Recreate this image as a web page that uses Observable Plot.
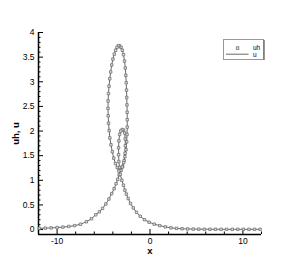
<!DOCTYPE html>
<html>
<head>
<meta charset="utf-8">
<script src="https://cdn.jsdelivr.net/npm/d3@7"></script>
<script src="https://cdn.jsdelivr.net/npm/@observablehq/plot@0.6"></script>
<style>
  body { margin: 0; background: #fff; }
  #wrap { position: relative; width: 297px; height: 264px; font-family: "Liberation Sans", Arial, sans-serif; }
  #wrap svg.plot { position: absolute; left: 0; top: 0; }
  [aria-label="x-axis label"] text, [aria-label="y-axis label"] text { font-weight: bold; font-size: 9.5px; }
  #legend { position: absolute; left: 223px; top: 39px; }
</style>
</head>
<body>
<div id="wrap"></div>
<script>
// Path along the curve (x, u)
const xs = [
  -11.9, -11.27, -10.64, -10.0, -9.37, -8.74, -8.11, -7.48, -6.85, -6.3, -5.84, -5.45, -5.11, -4.75, -4.42, -4.12, -3.86, -3.65, -3.47, -3.32,
  -3.15, -2.95, -2.78, -2.68, -2.66, -2.67, -2.72, -2.85, -3.0, -3.15, -3.27, -3.35, -3.38, -3.38, -3.35, -3.28,
  -3.12, -2.98, -2.84, -2.7, -2.58, -2.51, -2.47, -2.45, -2.45, -2.46, -2.48, -2.5, -2.53, -2.56, -2.6, -2.66, -2.74, -2.85, -2.98, -3.12, -3.27,
  -3.4,
  -3.55, -3.7, -3.85, -3.99, -4.12, -4.23, -4.33, -4.41, -4.47, -4.51, -4.52, -4.5, -4.46, -4.4, -4.32, -4.2, -4.06, -3.9, -3.72, -3.53, -3.36,
  -3.2, -3.03, -2.86, -2.7, -2.55, -2.35, -2.1, -1.8, -1.45, -1.05, -0.6, -0.1, 0.45, 1.05, 1.65, 2.25, 2.85, 3.45, 4.05, 4.65, 5.25,
  5.85, 6.45, 7.05, 7.65, 8.25, 8.85, 9.45, 10.05, 10.65, 11.25, 11.85
];
const us = [
  0.025, 0.029, 0.034, 0.041, 0.05, 0.063, 0.08, 0.108, 0.158, 0.22, 0.30, 0.36, 0.43, 0.52, 0.62, 0.73, 0.83, 0.93, 1.02, 1.11,
  1.2, 1.28, 1.4, 1.55, 1.7, 1.84, 1.96, 2.02, 2.03, 2.0, 1.93, 1.8, 1.66, 1.52, 1.38, 1.26,
  1.2, 1.27, 1.36, 1.48, 1.62, 1.78, 1.93, 2.08, 2.23, 2.38, 2.53, 2.68, 2.83, 2.98, 3.13, 3.28, 3.42, 3.55, 3.64, 3.70, 3.73,
  3.73,
  3.70, 3.64, 3.56, 3.46, 3.34, 3.2, 3.06, 2.91, 2.76, 2.61, 2.46, 2.31, 2.16, 2.01, 1.86, 1.72, 1.58, 1.45, 1.34, 1.26, 1.19,
  1.12, 1.0, 0.9, 0.8, 0.72, 0.63, 0.53, 0.44, 0.35, 0.27, 0.2, 0.15, 0.11, 0.08, 0.055, 0.035, 0.024, 0.016, 0.012, 0.01, 0.008,
  0.007, 0.006, 0.006, 0.005, 0.005, 0.005, 0.005, 0.005, 0.005, 0.005, 0.005
];
const xDomain = [-12, 12];
const yDomain = [-0.1, 4];
const xMajor = [-10, 0, 10];
const xMinor = [-12, -8, -6, -4, -2, 2, 4, 6, 8, 12];
const yMajor = [0, 0.5, 1, 1.5, 2, 2.5, 3, 3.5, 4];
const yMinor = d3.range(0, 40).map(i => i / 10).filter(v => Math.round(v * 10) % 5 !== 0);
const seriesNames = ["uh", "u"];

const data = xs.map((x, i) => ({x, u: us[i]}));
const ink = "#444";

const plot = Plot.plot({
  width: 297,
  height: 264,
  marginLeft: 38,
  marginRight: 36,
  marginTop: 32,
  marginBottom: 30,
  style: {fontFamily: "Liberation Sans, Arial, sans-serif", fontSize: "8.5px", color: "#000", background: "transparent"},
  x: {domain: xDomain},
  y: {domain: yDomain},
  marks: [
    Plot.axisX(xMinor, {tickSize: -2.5, tickFormat: () => "", label: null}),
    Plot.axisX(xMajor, {tickSize: -5, tickPadding: 8, tickFormat: d => String(d), label: "x", labelAnchor: "center", labelArrow: false, labelOffset: 19}),
    Plot.axisY(yMinor, {tickSize: -2.5, tickFormat: () => "", label: null}),
    Plot.axisY(yMajor, {tickSize: -5, tickPadding: 9, tickFormat: d => String(d), label: "uh, u", labelAnchor: "center", labelArrow: false, labelOffset: 26}),
    Plot.ruleX([xDomain[0]], {stroke: "#000", strokeWidth: 1.5}),
    Plot.ruleY([yDomain[0]], {stroke: "#000", strokeWidth: 1.5}),
    Plot.line(data, {x: "x", y: "u", stroke: ink, strokeWidth: 0.8}),
    Plot.dot(data, {x: "x", y: "u", symbol: "square", r: 1.4, stroke: "#666", strokeWidth: 0.7, fill: "#ddd"})
  ]
});
plot.classList.add("plot");
document.getElementById("wrap").appendChild(plot);

// Legend (Tecplot-style box)
const lg = d3.select("#wrap").append("svg").attr("id", "legend").attr("width", 43).attr("height", 23);
lg.append("rect").attr("x", 0.5).attr("y", 0.5).attr("width", 40).attr("height", 20).attr("fill", "#fff").attr("stroke", "#999").attr("stroke-width", 1);
lg.append("line").attr("x1", 41).attr("x2", 41).attr("y1", 1).attr("y2", 21).attr("stroke", "#777").attr("stroke-width", 1.5);
lg.append("rect").attr("x", 13.3).attr("y", 7.8).attr("width", 2.6).attr("height", 2.6).attr("fill", "#ddd").attr("stroke", "#666").attr("stroke-width", 0.7);
lg.append("line").attr("x1", 3).attr("x2", 25.5).attr("y1", 15.2).attr("y2", 15.2).attr("stroke", ink).attr("stroke-width", 0.8);
lg.selectAll("text.lab").data(seriesNames).join("text")
  .attr("x", 30).attr("y", (d, i) => 11 + i * 6.5)
  .attr("font-size", "6.5px").attr("font-family", "Liberation Sans, Arial, sans-serif").attr("fill", "#000")
  .text(d => d);
</script>
</body>
</html>
